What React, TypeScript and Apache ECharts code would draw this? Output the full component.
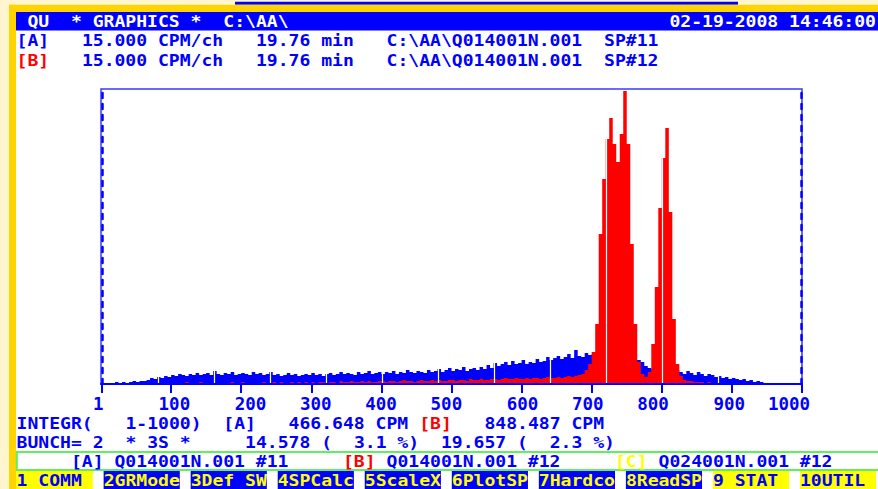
import React, { useEffect, useRef } from "react";
import * as echarts from "echarts";

// ---------- data ----------
const channelsPerBin = 5; // each bin covers 5 channels (200 bins over 1..1000)

// spectrum [A] (blue), heights per bin
const spectrumA = [
  0, 0, 0, 0, 2, 0, 2, 0, 2, 3,
  2, 3, 3, 4, 6, 5, 7, 6, 8, 7,
  9, 8, 10, 9, 8, 10, 9, 11, 9, 10,
  11, 9, 13, 10, 9, 11, 10, 12, 9, 10,
  11, 10, 9, 12, 10, 11, 9, 10, 12, 9,
  10, 8, 9, 11, 9, 10, 8, 9, 10, 9,
  11, 9, 10, 8, 10, 11, 9, 10, 12, 10,
  11, 10, 9, 12, 10, 11, 13, 10, 11, 12,
  10, 12, 11, 13, 10, 12, 11, 14, 12, 11,
  13, 12, 11, 14, 12, 13, 15, 12, 14, 16,
  13, 15, 14, 17, 13, 15, 16, 14, 17, 15,
  19, 16, 21, 18, 20, 22, 19, 23, 20, 21,
  24, 20, 22, 21, 25, 22, 23, 27, 24, 26,
  28, 25, 27, 30, 26, 34, 28, 27, 31, 29,
  30, 28, 29, 30, 28, 27, 28, 29, 28, 27,
  26, 25, 24, 24, 22, 18, 16, 15, 14, 14,
  14, 13, 13, 14, 14, 12, 10, 13, 11, 9,
  12, 10, 8, 10, 9, 7, 8, 6, 7, 5,
  6, 5, 4, 5, 3, 4, 2, 3, 2, 0,
  0, 0, 0, 0, 0, 0, 0, 0, 0, 0,
];

// spectrum [B] (red), heights per bin
const spectrumB = [
  0, 0, 0, 0, 0, 0, 0, 0, 0, 0,
  0, 0, 0, 0, 0, 0, 0, 0, 0, 0,
  0, 0, 0, 0, 2, 0, 0, 0, 2, 0,
  0, 0, 0, 0, 0, 0, 0, 2, 0, 0,
  2, 0, 0, 0, 0, 0, 2, 0, 0, 2,
  0, 2, 1, 0, 2, 1, 2, 0, 2, 1,
  2, 1, 2, 2, 1, 2, 2, 1, 3, 2,
  2, 3, 2, 2, 3, 2, 3, 2, 2, 3,
  3, 2, 3, 3, 2, 3, 4, 3, 3, 2,
  3, 4, 3, 3, 4, 3, 4, 3, 3, 4,
  4, 3, 4, 4, 3, 5, 4, 4, 5, 4,
  4, 5, 5, 4, 5, 6, 5, 5, 6, 5,
  5, 6, 5, 6, 6, 5, 6, 7, 6, 6,
  7, 6, 7, 8, 7, 8, 9, 10, 14, 20,
  32, 60, 150, 205, 245, 266, 240, 222, 250, 293,
  240, 140, 60, 22, 10, 7, 12, 40, 97, 176,
  226, 256, 172, 65, 20, 8, 4, 3, 3, 2,
  2, 2, 1, 2, 1, 0, 1, 0, 0, 0,
  0, 0, 0, 0, 0, 0, 0, 0, 0, 0,
  0, 0, 0, 0, 0, 0, 0, 0, 0, 0,
];

const xTickValues = [1, 100, 200, 300, 400, 500, 600, 700, 800, 900, 1000];
const gapChannels = [81, 161, 241, 321, 401, 481, 561, 641, 721, 801, 881];

const titleTokens: [number, string][] = [
  [1, "QU"],
  [5, "* GRAPHICS *"],
  [19, "C:\\AA\\"],
  [60, "02-19-2008 14:46:00"],
];
const rowATokens: [number, string, string?][] = [
  [0, "[A]"],
  [6, "15.000 CPM/ch"],
  [22, "19.76 min"],
  [34, "C:\\AA\\Q014001N.001"],
  [54, "SP#11"],
];
const rowBTokens: [number, string, string?][] = [
  [0, "[B]", "red"],
  [6, "15.000 CPM/ch"],
  [22, "19.76 min"],
  [34, "C:\\AA\\Q014001N.001"],
  [54, "SP#12"],
];
const integrTokens: [number, string, string?][] = [
  [0, "INTEGR("],
  [10, "1-1000)"],
  [19, "[A]"],
  [25, "466.648 CPM"],
  [37, "[B]", "red"],
  [43, "848.487 CPM"],
];
const bunchTokens: [number, string, string?][] = [
  [0, "BUNCH= 2"],
  [10, "* 3S *"],
  [21, "14.578 ("],
  [31, "3.1 %)"],
  [39, "19.657 ("],
  [49, "2.3 %)"],
];
const fileTokens: [number, string, string?][] = [
  [5, "[A] Q014001N.001 #11"],
  [30, "[B]", "red"],
  [34, "Q014001N.001 #12"],
  [55, "[C]", "yellow"],
  [59, "Q024001N.001 #12"],
];
const fkeyLabels = ["1 COMM", "2GRMode", "3Def SW", "4SPCalc", "5ScaleX", "6PlotSP", "7Hardco", "8ReadSP", "9 STAT", "10UTIL"];
const fkeyYellow = [true, false, false, false, false, false, false, false, true, true];

// ---------- layout ----------
const W = 878;
const H = 489;
const COL0 = 16.6;
const COLW = 10.88;
const FONT_FAMILY = '"DejaVu Sans Mono", "Liberation Mono", monospace';
const FONT = `bold 18.07px ${FONT_FAMILY}`;
const BLUE = "#0000ff";
const RED = "#ff0000";
const YELLOW = "#ffff00";
const GOLD = "#ffd400";
const CREAM = "#fff6cf";
const GREEN = "#5ef05e";
const GRID_LEFT = 101;
const GRID_TOP = 89;
const GRID_W = 701;
const GRID_H = 295;
const labelCols = [7, 13, 20, 26, 32, 38, 45, 51, 57, 64, 69];

const colorOf = (k?: string) => (k === "red" ? RED : k === "yellow" ? YELLOW : BLUE);

function textEl(col: number, yMid: number, text: string, fill: string) {
  return {
    type: "text",
    x: COL0 + COLW * col,
    y: yMid,
    scaleY: 0.86,
    silent: true,
    style: { text, fill, font: FONT, align: "left", verticalAlign: "middle" },
  };
}

function buildOption() {
  const toSteps = (arr: number[]) => {
    const pts = arr.map((v, i) => [i * channelsPerBin, v]);
    pts.push([arr.length * channelsPerBin, arr[arr.length - 1]]);
    return pts;
  };

  const shifts = xTickValues.map((v, i) => {
    const s = String(v);
    const center = COL0 + COLW * (labelCols[i] + s.length / 2);
    const tickX = GRID_LEFT + (v / 1000) * GRID_W;
    return center - tickX;
  });
  const rich: Record<string, any> = {};
  shifts.forEach((d, i) => {
    rich["t" + i] = {
      padding: d >= 0 ? [0, 0, 0, 2 * d] : [0, -2 * d, 0, 0],
      color: BLUE,
      fontFamily: FONT_FAMILY,
      fontWeight: "bold",
      fontSize: 17.5,
      lineHeight: 18,
    };
  });

  const elements: any[] = [
    { type: "rect", silent: true, shape: { x: 0, y: 0, width: 9, height: H }, style: { fill: CREAM } },
    { type: "rect", silent: true, shape: { x: 0, y: 0, width: W, height: 4.7 }, style: { fill: CREAM } },
    { type: "rect", silent: true, shape: { x: 235, y: 1.7, width: 503, height: 3 }, style: { fill: BLUE } },
    { type: "rect", silent: true, shape: { x: 9, y: 4.7, width: 7, height: H }, style: { fill: GOLD } },
    { type: "rect", silent: true, shape: { x: 9, y: 4.7, width: W, height: 7.3 }, style: { fill: GOLD } },
    { type: "rect", silent: true, shape: { x: 16, y: 12, width: W, height: 18.5 }, style: { fill: BLUE } },
    {
      type: "rect",
      silent: true,
      shape: { x: 16.8, y: 452, width: 900, height: 18 },
      style: { fill: "none", stroke: GREEN, lineWidth: 2 },
    },
  ];
  fkeyLabels.forEach((_, k) => {
    elements.push({
      type: "rect",
      silent: true,
      shape: { x: COL0 + COLW * 8 * k - (k === 0 ? 0.6 : 0), y: 471, width: COLW * 7 + (k === 0 ? 0.6 : 0), height: 18 },
      style: { fill: fkeyYellow[k] ? YELLOW : BLUE },
    });
  });

  titleTokens.forEach(([c, t]) => elements.push(textEl(c, 21, t, "#ffffff")));
  rowATokens.forEach(([c, t, k]) => elements.push(textEl(c, 40.5, t, colorOf(k))));
  rowBTokens.forEach(([c, t, k]) => elements.push(textEl(c, 60, t, colorOf(k))));
  integrTokens.forEach(([c, t, k]) => elements.push(textEl(c, 423, t, colorOf(k))));
  bunchTokens.forEach(([c, t, k]) => elements.push(textEl(c, 442, t, colorOf(k))));
  fileTokens.forEach(([c, t, k]) => elements.push(textEl(c, 461, t, colorOf(k))));
  fkeyLabels.forEach((t, k) => elements.push(textEl(8 * k, 480.5, t, fkeyYellow[k] ? BLUE : YELLOW)));

  const yAxisBase = (position: "left" | "right") => ({
    type: "value",
    position,
    min: 0,
    max: 295,
    offset: -1,
    axisLine: { show: true, lineStyle: { color: BLUE, width: 2.5, type: [5, 6] } },
    axisTick: { show: false },
    axisLabel: { show: false },
    splitLine: { show: false },
  });

  return {
    animation: false,
    backgroundColor: "#ffffff",
    grid: {
      left: GRID_LEFT,
      top: GRID_TOP,
      width: GRID_W,
      height: GRID_H,
      show: true,
      borderColor: "#3a3aff",
      borderWidth: 1.5,
      backgroundColor: "transparent",
    },
    xAxis: {
      type: "value",
      min: 0,
      max: 1000,
      z: 5,
      axisLine: { show: true, onZero: false, lineStyle: { color: BLUE, width: 2 } },
      axisTick: {
        show: true,
        inside: false,
        length: 9,
        customValues: xTickValues,
        lineStyle: { color: BLUE, width: 2 },
      },
      axisLabel: {
        show: true,
        customValues: xTickValues,
        margin: 11,
        color: BLUE,
        fontFamily: FONT_FAMILY,
        fontWeight: "bold",
        fontSize: 17.5,
        lineHeight: 18,
        hideOverlap: false,
        formatter: (value: number) => {
          const i = xTickValues.indexOf(value);
          return `{t${i}|${value}}`;
        },
        rich,
      },
      splitLine: { show: false },
    },
    yAxis: [yAxisBase("left"), yAxisBase("right")],
    graphic: { elements },
    series: [
      {
        type: "line",
        name: "[A]",
        data: toSteps(spectrumA),
        step: "end",
        symbol: "none",
        silent: true,
        z: 2,
        lineStyle: { width: 0, color: BLUE },
        itemStyle: { color: BLUE },
        areaStyle: { color: BLUE, opacity: 1 },
      },
      {
        type: "line",
        name: "[B]",
        data: toSteps(spectrumB),
        step: "end",
        symbol: "none",
        silent: true,
        z: 3,
        lineStyle: { width: 0, color: RED },
        itemStyle: { color: RED },
        areaStyle: { color: RED, opacity: 1 },
        markLine: {
          silent: true,
          symbol: ["none", "none"],
          label: { show: false },
          lineStyle: { color: "#ffffff", width: 1.2, type: "solid", opacity: 1 },
          emphasis: { disabled: true },
          data: gapChannels.map((c) => [{ coord: [c, 1] }, { coord: [c, 288] }]),
        },
      },
    ],
  };
}

export default function App() {
  const ref = useRef<HTMLDivElement>(null);
  useEffect(() => {
    if (!ref.current) return;
    const chart = echarts.init(ref.current, undefined, { renderer: "svg" });
    chart.setOption(buildOption() as any);
    return () => chart.dispose();
  }, []);
  return (
    <div
      ref={ref}
      style={{ position: "fixed", left: 0, top: 0, width: W, height: H, background: "#fff" }}
    />
  );
}
